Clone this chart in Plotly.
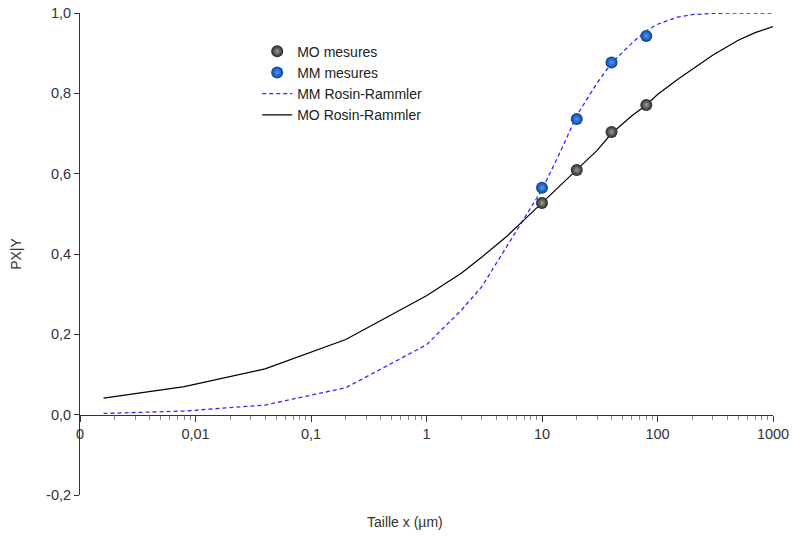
import plotly.graph_objects as go

# ---- data ----
x_curve = [0.0016, 0.008, 0.04, 0.2, 1, 2, 3, 5, 7, 10, 15, 20, 30, 40, 60, 80,
           100, 150, 200, 300, 500, 700, 1000]
mo_rr = [0.041, 0.070, 0.114, 0.187, 0.296, 0.352, 0.392, 0.445, 0.485, 0.527,
         0.576, 0.609, 0.658, 0.700, 0.744, 0.771, 0.797, 0.835, 0.860, 0.895,
         0.932, 0.951, 0.966]
mm_rr = [0.003, 0.009, 0.024, 0.067, 0.174, 0.260, 0.318, 0.420, 0.487, 0.560,
         0.665, 0.745, 0.826, 0.875, 0.925, 0.956, 0.972, 0.990, 0.996, 0.999,
         1.0, 1.0, 1.0]

x_meas = [10, 20, 40, 80]
mo_meas = [0.527, 0.609, 0.704, 0.771]
mm_meas = [0.565, 0.736, 0.877, 0.943]

x_tickvals = [0.001, 0.01, 0.1, 1, 10, 100, 1000]
x_ticktext = ["0", "0,01", "0,1", "1", "10", "100", "1000"]
y_tickvals = [-0.2, 0.0, 0.2, 0.4, 0.6, 0.8, 1.0]
y_ticktext = ["-0,2", "0,0", "0,2", "0,4", "0,6", "0,8", "1,0"]
minor_mult = [2, 3, 4, 5, 6, 7, 8, 9]
decades = [0.001, 0.01, 0.1, 1, 10, 100]
minor_vals = [m * d for d in decades for m in minor_mult]

FONT = "Liberation Sans, Arial, sans-serif"
AX = "#333333"

fig = go.Figure()

fig.add_trace(go.Scatter(
    x=x_curve, y=mm_rr, mode="lines", name="MM Rosin-Rammler",
    line=dict(color="#2b2bff", width=1.3, dash="4px,3px"), legendrank=3))
fig.add_trace(go.Scatter(
    x=x_curve, y=mo_rr, mode="lines", name="MO Rosin-Rammler",
    line=dict(color="black", width=1.2), legendrank=4))
fig.add_trace(go.Scatter(
    x=x_meas, y=mo_meas, mode="markers", name="MO mesures",
    marker=dict(size=12, color="#262626",
                gradient=dict(type="radial", color="#9a9a9a"),
                line=dict(width=0)), legendrank=1))
fig.add_trace(go.Scatter(
    x=x_meas, y=mm_meas, mode="markers", name="MM mesures",
    marker=dict(size=12, color="#0b3f9e",
                gradient=dict(type="radial", color="#4a9cf0"),
                line=dict(width=0)), legendrank=2))

fig.update_layout(
    width=793, height=540,
    margin=dict(l=80, r=20, t=13, b=45, autoexpand=False),
    paper_bgcolor="white", plot_bgcolor="white",
    font=dict(family=FONT, size=14, color=AX),
    showlegend=True,
    legend=dict(x=0.2557, y=0.953, xanchor="left", yanchor="top",
                bgcolor="rgba(0,0,0,0)", font=dict(size=14, color="#222"),
                tracegroupgap=0, itemwidth=30),
    xaxis=dict(
        type="log", range=[-3, 3], automargin=False,
        anchor="free", position=0.2 / 1.2,
        showline=True, linecolor=AX, linewidth=1,
        showgrid=False, zeroline=False,
        tickmode="array", tickvals=x_tickvals, ticktext=x_ticktext,
        ticks="outside", ticklen=6, tickcolor=AX, tickwidth=1,
        minor=dict(ticks="outside", ticklen=4, tickcolor="#888",
                   tickmode="array", tickvals=minor_vals, showgrid=False),
        tickfont=dict(size=14.5, color=AX), ticklabeloverflow="allow",
        title=dict(text=""),
    ),
    yaxis=dict(
        range=[-0.2, 1.0], automargin=False,
        showline=True, linecolor=AX, linewidth=1,
        showgrid=False, zeroline=False,
        tickmode="array", tickvals=y_tickvals, ticktext=y_ticktext,
        ticks="outside", ticklen=5, tickcolor=AX,
        tickfont=dict(size=14.5, color=AX), ticklabeloverflow="allow",
        title=dict(text="PX|Y", font=dict(size=14, color=AX), standoff=21),
    ),
    annotations=[dict(
        text="Taille x (µm)", xref="paper", yref="paper",
        x=(405 - 80) / 693, y=-0.055, xanchor="center", yanchor="middle",
        showarrow=False, font=dict(size=14, color=AX))],
)

fig.write_html("out.html",
               config={"displayModeBar": False},
               post_script="document.body.style.margin='0';")
